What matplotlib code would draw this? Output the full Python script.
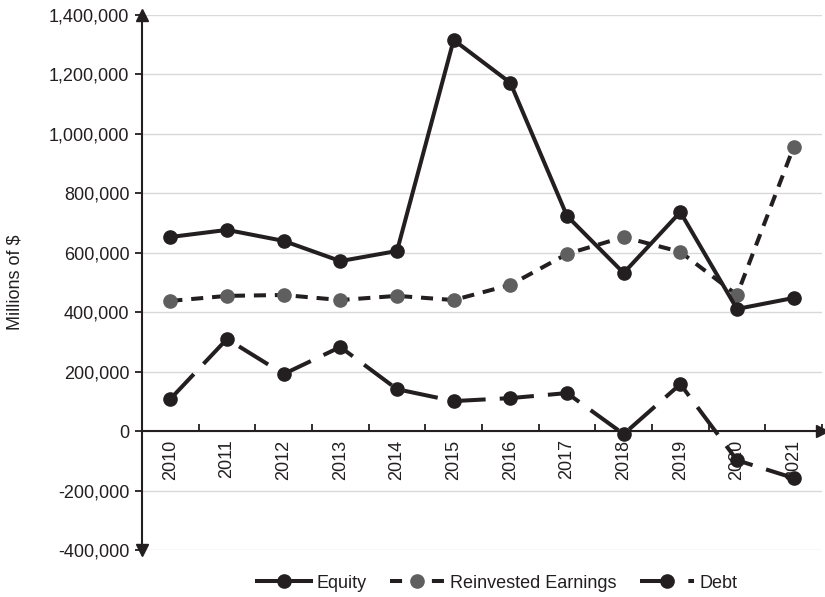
import matplotlib
matplotlib.use("Agg")
import matplotlib.pyplot as plt
import matplotlib.transforms as mtransforms
from matplotlib.ticker import FuncFormatter, FixedLocator
import numpy as np

plt.rcParams['font.family'] = ['Liberation Sans', 'DejaVu Sans']

years = ["2010", "2011", "2012", "2013", "2014", "2015", "2016", "2017", "2018", "2019", "2020", "2021"]
equity = [653000, 677000, 640000, 572000, 606000, 1316000, 1172000, 724000, 532000, 737000, 411000, 448000]
reinvested = [438000, 455000, 458000, 441000, 455000, 441000, 492000, 596000, 653000, 603000, 458000, 956000]
debt = [108000, 310000, 192000, 283000, 141000, 101000, 111000, 128000, -10000, 158000, -98000, -158000]
yticks = [-400000, -200000, 0, 200000, 400000, 600000, 800000, 1000000, 1200000, 1400000]

dark = '#231f20'
grey = '#5f5f5f'
fs = 13

fig = plt.figure(figsize=(8.25, 5.97), dpi=100)
ax = fig.add_axes([142/825, 1-550/597, (822-142)/825, (550-15)/597])

x = np.arange(len(years))
ax.plot(x, equity, color=dark, lw=2.9, marker='o', ms=9.5, label='Equity', zorder=4)
ax.plot(x, reinvested, color=dark, lw=2.9, dashes=(3, 2.2), marker='o', ms=9.5,
        mfc=grey, mec=grey, label='Reinvested Earnings', zorder=3)
ax.plot(x, debt, color=dark, lw=2.9, dashes=(8.5, 3.5), marker='o', ms=9.5,
        label='Debt', zorder=3)

ax.set_xlim(-0.5, 11.5)
ax.set_ylim(-400000, 1400000)
ax.set_yticks(yticks)
ax.yaxis.set_major_formatter(FuncFormatter(lambda v, p: f"{int(v):,}"))
ax.grid(axis='y', color='#d9d9d9', lw=1.0, zorder=0)
ax.set_axisbelow(True)

for s in ['top', 'right']:
    ax.spines[s].set_visible(False)
ax.spines['left'].set_color(dark)
ax.spines['left'].set_linewidth(1.5)
ax.spines['bottom'].set_position(('data', 0))
ax.spines['bottom'].set_color(dark)
ax.spines['bottom'].set_linewidth(1.5)

ax.set_xticks(x)
ax.set_xticklabels(years, rotation=90, fontsize=fs, color=dark)
ax.xaxis.set_minor_locator(FixedLocator(np.arange(0.5, 11.6, 1.0)))
ax.tick_params(axis='x', which='major', length=0, pad=6)
ax.tick_params(axis='x', which='minor', direction='in', length=5, width=1.3, color=dark)
ax.tick_params(axis='y', direction='out', length=5, width=1.3, color=dark, labelsize=fs,
               labelcolor=dark, pad=4)

ax.set_ylabel('Millions of $', fontsize=fs, color=dark)
ax.yaxis.set_label_coords(-(142-23)/680, 0.5)

# arrows
ax.plot([0], [1.0], marker='^', color=dark, ms=9, transform=ax.transAxes, clip_on=False, zorder=6)
ax.plot([0], [0.0], marker='v', color=dark, ms=9, transform=ax.transAxes, clip_on=False, zorder=6)
trans = mtransforms.blended_transform_factory(ax.transAxes, ax.transData)
ax.plot([1.0], [0], marker='>', color=dark, ms=9, transform=trans, clip_on=False, zorder=6)

leg = fig.legend(*ax.get_legend_handles_labels(), loc='center', bbox_to_anchor=(497/825, 1-583/597),
                 ncol=3, frameon=False, fontsize=fs, handlelength=3.0, columnspacing=1.3,
                 handletextpad=0.3, borderpad=0.1)
for t in leg.get_texts():
    t.set_color(dark)

fig.savefig('out.png', dpi=100)
